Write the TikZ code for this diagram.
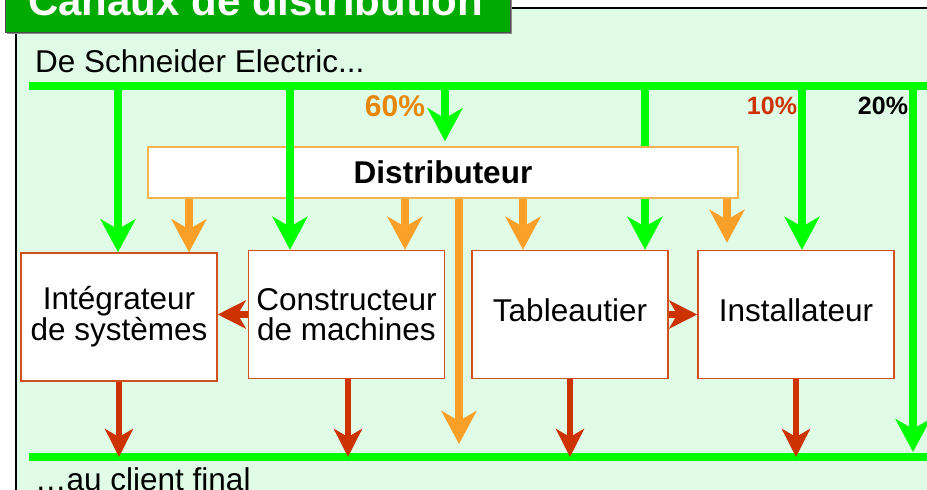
\documentclass[tikz,border=0pt]{standalone}
\usepackage{fontspec}
\setmainfont{Liberation Sans}
\usepackage{tikz}
\usetikzlibrary{arrows.meta,calc}

\definecolor{vif}{RGB}{0,255,0}
\definecolor{fond}{RGB}{224,252,230}
\definecolor{bandeau}{RGB}{0,170,0}
\definecolor{ambre}{RGB}{250,160,40}
\definecolor{brique}{RGB}{204,51,0}
\definecolor{cadre}{RGB}{208,80,30}
\definecolor{bordd}{RGB}{245,180,80}
\definecolor{pourc}{RGB}{230,135,10}

\tikzset{
  acteur/.style={draw=cadre, line width=1.5pt, fill=white, minimum width=196pt,
    minimum height=128pt, align=center, inner sep=0pt,
    font=\fontsize{31.5}{29.5}\selectfont},
  distri/.style={draw=bordd, line width=1.5pt, fill=white, minimum width=590pt,
    minimum height=51pt, inner sep=0pt, font=\bfseries\fontsize{31.5}{31}\selectfont},
  texte/.style={inner sep=0pt, font=\fontsize{31.5}{31}\selectfont},
  titre/.style={inner sep=0pt, anchor=base west, text=white,
    font=\bfseries\fontsize{42}{42}\selectfont},
  pct/.style={inner sep=0pt, font=\bfseries\fontsize{25}{25}\selectfont},
  bus/.style={draw=vif, line width=8pt},
  fluxvert/.style={draw=vif, line width=8pt,
    -{Stealth[length=33pt, width=35pt, inset=10pt]}},
  fluxambre/.style={draw=ambre, line width=8pt,
    -{Stealth[length=33pt, width=35pt, inset=10pt]}},
  fluxbrique/.style={draw=brique, line width=6.5pt,
    -{Stealth[length=28pt, width=28pt, inset=8pt]}},
}

\begin{document}
\begin{tikzpicture}[x=1pt,y=-1pt]
  \useasboundingbox (0,0) rectangle (927,490);
  % cadre et bandeau
  \fill[fond] (16,8) rectangle (935,495);
  \draw[line width=2pt] (16,495) -- (16,8) -- (935,8);
  \fill[black!45] (7,-10) rectangle (512,34);
  \filldraw[fill=bandeau, draw=black!70, line width=0.8pt] (5,-10) rectangle (510,32);
  \node[titre] (titre) at (28,15) {Canaux de distribution};

  \node[texte, anchor=base west] (source) at (35,72) {De Schneider Electric...};
  \node[texte, anchor=base west] (client) at (35,490) {…au client final};

  % les acteurs
  \node[distri] (distrib) at (443,172.5) {Distributeur};
  \node[acteur] (integ) at (119,317) {Intégrateur\\de systèmes};
  \node[acteur] (constr) at (346.5,314.5) {Constructeur\\de machines};
  \node[acteur, text depth=9pt] (tabl) at (570,314.5) {Tableautier};
  \node[acteur, text depth=9pt] (install) at (796,314.5) {Installateur};

  % les deux lignes
  \coordinate (srcL) at (29,85.5);
  \coordinate (srcR) at (927,85.5);
  \coordinate (cliL) at (29,457);
  \coordinate (cliR) at (927,457);
  \draw[bus] (srcL) -- (srcR);
  \draw[bus] (cliL) -- (cliR);

  % flux directs
  \foreach \N/\S in {integ/-1, constr/-56.5, install/6}
    \draw[fluxvert] ([xshift=\S pt]\N.north |- srcL) -- ([xshift=\S pt]\N.north);
  \draw[bus] ([xshift=75pt]tabl.north |- srcL) -- ([xshift=75pt]tabl.north |- distrib.north);
  \draw[fluxvert] ([xshift=75pt]tabl.north |- distrib.south) -- ([xshift=75pt]tabl.north);
  \draw[fluxvert, shorten >=5pt] ([xshift=2pt]distrib.north |- srcL) -- ([xshift=2pt]distrib.north);
  \draw[fluxvert, shorten >=5pt] ([xshift=-14pt]srcR) -- ([xshift=-14pt]cliR);

  % via le distributeur
  \foreach \N/\S in {integ/70, constr/58.5, tabl/-47}
    \draw[fluxambre] ([xshift=\S pt]\N.north |- distrib.south) -- ([xshift=\S pt]\N.north);
  \draw[fluxambre, shorten >=7pt] ([xshift=-69pt]install.north |- distrib.south) -- ([xshift=-69pt]install.north);
  \draw[fluxambre, shorten >=13pt] ([xshift=16pt]distrib.south) -- ([xshift=16pt]distrib.south |- cliL);

  % vers le client final
  \foreach \N/\S in {integ/0, constr/1.5, tabl/0, install/0}
    \draw[fluxbrique] ([xshift=\S pt]\N.south) -- ([xshift=\S pt]\N.south |- cliL);
  \draw[fluxbrique] (constr.west) -- (constr.west -| integ.east);
  \draw[fluxbrique] (tabl.east) -- (tabl.east -| install.west);

  % parts
  \node[pct, text=pourc, font=\bfseries\fontsize{30}{30}\selectfont] (p60) at (395,106) {60\%};
  \node[pct, text=brique] (p10) at (772,106) {10\%};
  \node[pct] (p20) at (883,106) {20\%};
\end{tikzpicture}
\end{document}
